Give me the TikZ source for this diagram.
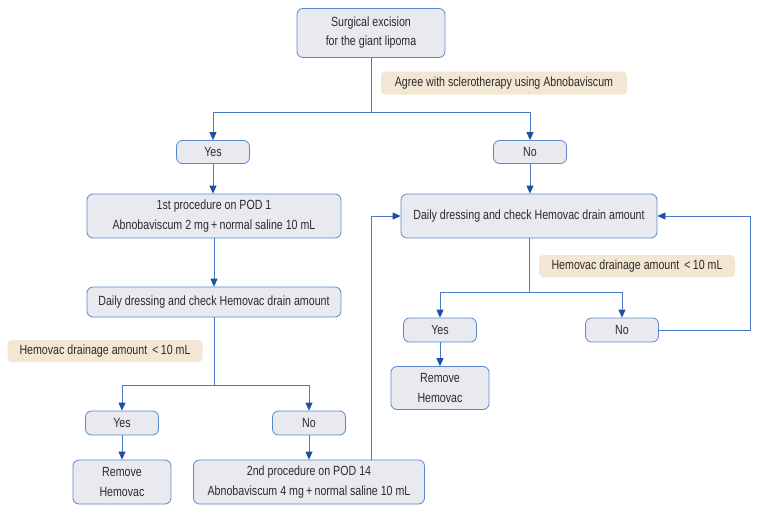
\documentclass[tikz,border=0pt]{standalone}
\usepackage{fontspec}
\setmainfont{Liberation Sans}[FakeStretch=0.8]
\usetikzlibrary{arrows.meta,calc}
\definecolor{boxfill}{HTML}{E8EAF0}
\definecolor{boxdraw}{HTML}{5B87CC}
\definecolor{linec}{HTML}{4A7AC6}
\definecolor{tipc}{HTML}{1F4F9E}
\definecolor{labfill}{HTML}{F3E7D3}
\definecolor{txt}{HTML}{2B2B2B}
\tikzset{
  box/.style={draw=boxdraw, fill=boxfill, rounded corners=6pt, line width=0.8pt, align=center, text=txt, inner sep=0pt, font=\fontsize{13.3}{19.5}\selectfont},
  lab/.style={fill=labfill, rounded corners=4pt, text=txt, inner sep=0pt, font=\fontsize{13.3}{19.5}\selectfont},
  conn/.style={draw=linec, line width=0.8pt},
  arr/.style={conn, -{Triangle[length=8pt,width=7pt,fill=tipc,color=tipc]}}
}
\begin{document}
\begin{tikzpicture}[x=1pt,y=-1pt]
\useasboundingbox (0,0) rectangle (758,512);
\node[box, minimum width=148pt, minimum height=49pt, font=\fontsize{13.3}{19}\selectfont] (top) at (371,33) {Surgical excision\\for the giant lipoma};
\node[lab, minimum width=246pt, minimum height=23pt] (agree) at (504,83) {Agree with sclerotherapy using Abnobaviscum};
\node[box, minimum width=73pt, minimum height=23pt] (yes1) at (213,152) {Yes};
\node[box, minimum width=73pt, minimum height=23pt] (no1) at (530,152) {No};
\node[box, minimum width=254pt, minimum height=44pt] (proc1) at (214,216) {1st procedure on POD 1\\Abnobaviscum 2 mg\,+\,normal saline 10 mL};
\node[box, minimum width=254pt, minimum height=30pt] (daily1) at (214,302) {Daily dressing and check Hemovac drain amount};
\node[lab, minimum width=195pt, minimum height=22pt] (lab1) at (105,351) {Hemovac drainage amount \,<\,10 mL};
\node[box, minimum width=73pt, minimum height=24pt] (yes2) at (122,423) {Yes};
\node[box, minimum width=73pt, minimum height=24pt] (no2) at (309,423) {No};
\node[box, minimum width=98pt, minimum height=44pt] (rem1) at (122,482) {Remove\\Hemovac};
\node[box, minimum width=231pt, minimum height=44pt] (proc2) at (309,482) {2nd procedure on POD 14\\Abnobaviscum 4 mg\,+\,normal saline 10 mL};
\node[box, minimum width=256pt, minimum height=44pt] (daily2) at (529,216) {Daily dressing and check Hemovac drain amount};
\node[lab, minimum width=196pt, minimum height=22pt] (lab2) at (637,266) {Hemovac drainage amount \,<\,10 mL};
\node[box, minimum width=73pt, minimum height=24pt] (yes3) at (440,330) {Yes};
\node[box, minimum width=73pt, minimum height=24pt] (no3) at (622,330) {No};
\node[box, minimum width=98pt, minimum height=43pt] (rem2) at (440,388) {Remove\\Hemovac};
\coordinate (s1) at (371,112);
\coordinate (s2) at (214,385);
\coordinate (s3) at (529,292);
\coordinate (up) at (371,216);
\coordinate (loop) at (750,330);
\draw[conn] (top.south) -- (s1);
\draw[arr] (s1) -| (yes1.north);
\draw[arr] (s1) -| (no1.north);
\draw[arr] (yes1.south) -- (yes1.south |- proc1.north);
\draw[arr] (no1.south) -- (no1.south |- daily2.north);
\draw[arr] (proc1.south) -- (daily1.north);
\draw[conn] (daily1.south) -- (s2);
\draw[arr] (s2) -| (yes2.north);
\draw[arr] (s2) -| (no2.north);
\draw[arr] (yes2.south) -- (rem1.north);
\draw[arr] (no2.south) -- (proc2.north);
\draw[arr] (proc2.north -| up) -- (up) -- (daily2.west);
\draw[conn] (daily2.south) -- (s3);
\draw[arr] (s3) -| (yes3.north);
\draw[arr] (s3) -| (no3.north);
\draw[arr] (yes3.south) -- (rem2.north);
\draw[arr] (no3.east) -- (loop) |- (daily2.east);
\end{tikzpicture}
\end{document}
